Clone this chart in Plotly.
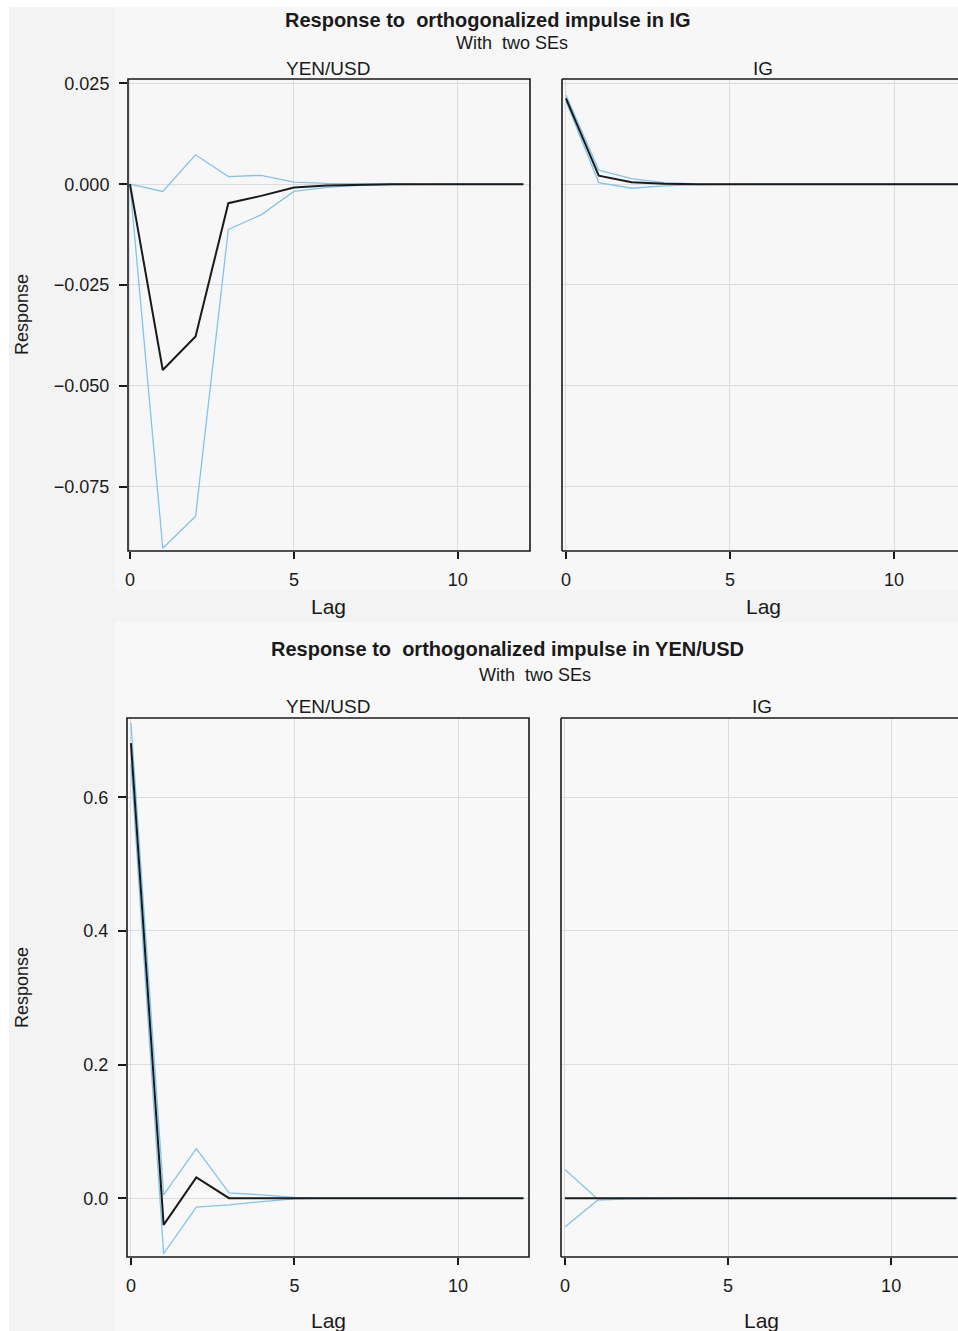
import plotly.graph_objects as go

# ---------------- data ----------------
lags = list(range(13))

# Top row: response to orthogonalized impulse in IG
ig_yen_irf   = [0, -0.0461, -0.0378, -0.0047, -0.0029, -0.0008, -0.0003, -0.0001, 0, 0, 0, 0, 0]
ig_yen_upper = [0, -0.0018, 0.0073, 0.0019, 0.0022, 0.0005, 0.0002, 0.0001, 0, 0, 0, 0, 0]
ig_yen_lower = [0, -0.0903, -0.0824, -0.0112, -0.0076, -0.0018, -0.0008, -0.0003, -0.0001, 0, 0, 0, 0]

ig_ig_irf   = [0.0213, 0.0021, 0.0005, 0.0001, 0, 0, 0, 0, 0, 0, 0, 0, 0]
ig_ig_upper = [0.0221, 0.0035, 0.0014, 0.0004, 0.0001, 0, 0, 0, 0, 0, 0, 0, 0]
ig_ig_lower = [0.0206, 0.0004, -0.0010, -0.0004, -0.0001, 0, 0, 0, 0, 0, 0, 0, 0]

# Bottom row: response to orthogonalized impulse in YEN/USD
yen_yen_irf   = [0.681, -0.040, 0.031, 0.000, 0.000, 0, 0, 0, 0, 0, 0, 0, 0]
yen_yen_upper = [0.711, 0.005, 0.074, 0.008, 0.005, 0.001, 0, 0, 0, 0, 0, 0, 0]
yen_yen_lower = [0.650, -0.083, -0.0135, -0.010, -0.005, -0.001, 0, 0, 0, 0, 0, 0, 0]

yen_ig_irf   = [0, -0.0005, -0.0002, 0, 0, 0, 0, 0, 0, 0, 0, 0, 0]
yen_ig_upper = [0.043, -0.001, -0.0005, 0, 0, 0, 0, 0, 0, 0, 0, 0, 0]
yen_ig_lower = [-0.043, -0.003, -0.001, -0.0003, 0, 0, 0, 0, 0, 0, 0, 0, 0]

x_ticks = [0, 5, 10]
top_y_ticks = [0.025, 0.000, -0.025, -0.050, -0.075]
bot_y_ticks = [0.0, 0.2, 0.4, 0.6]

row_titles = ["Response to  orthogonalized impulse in IG",
              "Response to  orthogonalized impulse in YEN/USD"]
subtitle = "With  two SEs"
panel_titles = ["YEN/USD", "IG"]

# ---------------- layout helpers ----------------
W, H = 958, 1331
FONT = "Liberation Sans"
BLUE = "#84c4ea"
BLACK = "#1a1a1a"
GRID = "#d9dde1"


def px(x):
    return x / W


def py(y):
    return 1 - y / H


fig = go.Figure()

panels = [
    ("x", "y", (128, 530), (79, 551), [-0.06, 12.2], [-0.0910, 0.0261],
     (ig_yen_irf, ig_yen_upper, ig_yen_lower), True),
    ("x2", "y2", (562, 958), (79, 551), [-0.12, 11.95], [-0.0910, 0.0261],
     (ig_ig_irf, ig_ig_upper, ig_ig_lower), False),
    ("x3", "y3", (127, 529), (718, 1257), [-0.12, 12.17], [-0.088, 0.7185],
     (yen_yen_irf, yen_yen_upper, yen_yen_lower), True),
    ("x4", "y4", (561, 958), (718, 1257), [-0.12, 12.05], [-0.088, 0.7185],
     (yen_ig_irf, yen_ig_upper, yen_ig_lower), False),
]

shapes = []
# background tones
shapes.append(dict(type="rect", xref="paper", yref="paper", x0=px(9), x1=1, y0=0, y1=py(7),
                   fillcolor="#f3f3f3", line=dict(width=0), layer="below"))
shapes.append(dict(type="rect", xref="paper", yref="paper", x0=px(115), x1=1, y0=py(590), y1=py(7),
                   fillcolor="#f7f7f7", line=dict(width=0), layer="below"))
shapes.append(dict(type="rect", xref="paper", yref="paper", x0=px(115), x1=1, y0=0, y1=py(622),
                   fillcolor="#f8f8f8", line=dict(width=0), layer="below"))

layout_axes = {}
for i, (xa, ya, xd, yd, xr, yr, data, full) in enumerate(panels):
    irf, up, lo = data
    for series, color, width in ((up, BLUE, 1.3), (lo, BLUE, 1.3), (irf, BLACK, 2)):
        fig.add_trace(go.Scatter(x=lags, y=series, xaxis=xa, yaxis=ya, mode="lines",
                                 line=dict(color=color, width=width), showlegend=False,
                                 hoverinfo="skip"))
    top_row = i < 2
    left = i % 2 == 0
    xkey = "xaxis" + xa[1:]
    ykey = "yaxis" + ya[1:]
    layout_axes[xkey] = dict(
        domain=[px(xd[0]), px(xd[1])], range=xr, anchor=ya, automargin=False,
        tickvals=x_ticks, ticks="outside", ticklen=7, tickwidth=1.5, tickcolor=BLACK,
        showgrid=True, gridcolor=GRID, gridwidth=1, zeroline=False, showline=False,
        tickfont=dict(family=FONT, size=18, color=BLACK), ticklabelstandoff=5,
    )
    yt = top_y_ticks if top_row else bot_y_ticks
    layout_axes[ykey] = dict(
        domain=[py(yd[1]), py(yd[0])], range=yr, anchor=xa, automargin=False,
        tickvals=yt, tickformat=".3f" if top_row else ".1f",
        ticks="outside" if left else "", ticklen=8, tickwidth=1.5, tickcolor=BLACK,
        showticklabels=left, showgrid=True, gridcolor=GRID, gridwidth=1,
        zeroline=False, showline=False,
        tickfont=dict(family=FONT, size=18, color=BLACK), ticklabelstandoff=6,
    )
    xdom, ydom = xa + " domain", ya + " domain"
    if full:
        shapes.append(dict(type="rect", xref=xdom, yref=ydom, x0=0, x1=1, y0=0, y1=1,
                           line=dict(color=BLACK, width=1.6)))
    else:
        for (x0, y0, x1, y1) in ((0, 0, 0, 1), (0, 1, 1.01, 1), (0, 0, 1.01, 0)):
            shapes.append(dict(type="line", xref=xdom, yref=ydom, x0=x0, y0=y0, x1=x1, y1=y1,
                               line=dict(color=BLACK, width=1.6)))

annotations = []


def ann(text, x, y, size, bold=False, angle=0):
    annotations.append(dict(
        text=f"<b>{text}</b>" if bold else text, x=px(x), y=py(y), xref="paper", yref="paper",
        xanchor="center", yanchor="middle", showarrow=False, textangle=angle,
        font=dict(family=FONT, size=size, color=BLACK)))


# top row texts
ann(row_titles[0], 488, 20, 20, bold=True)
ann(subtitle, 512, 43, 18)
ann(panel_titles[0], 328, 69, 19)
ann(panel_titles[1], 763, 69, 19)
ann("Lag", 328, 606, 21)
ann("Lag", 763, 606, 21)
ann("Response", 22, 315, 18, angle=-90)
# bottom row texts
ann(row_titles[1], 507, 649, 20, bold=True)
ann(subtitle, 535, 675, 18)
ann(panel_titles[0], 328, 706, 19)
ann(panel_titles[1], 762, 706, 19)
ann("Lag", 328, 1320, 21)
ann("Lag", 761, 1320, 21)
ann("Response", 22, 988, 18, angle=-90)

fig.update_layout(
    width=W, height=H, margin=dict(l=0, r=0, t=0, b=0, pad=0, autoexpand=False),
    paper_bgcolor="white", plot_bgcolor="#fbfbfb",
    shapes=shapes, annotations=annotations, showlegend=False,
    font=dict(family=FONT, color=BLACK),
    **layout_axes,
)

fig.write_html(
    "out.html",
    config={"displayModeBar": False},
    post_script="document.body.style.margin='0px';document.body.style.padding='0px';"
                "document.documentElement.style.overflow='hidden';",
)
